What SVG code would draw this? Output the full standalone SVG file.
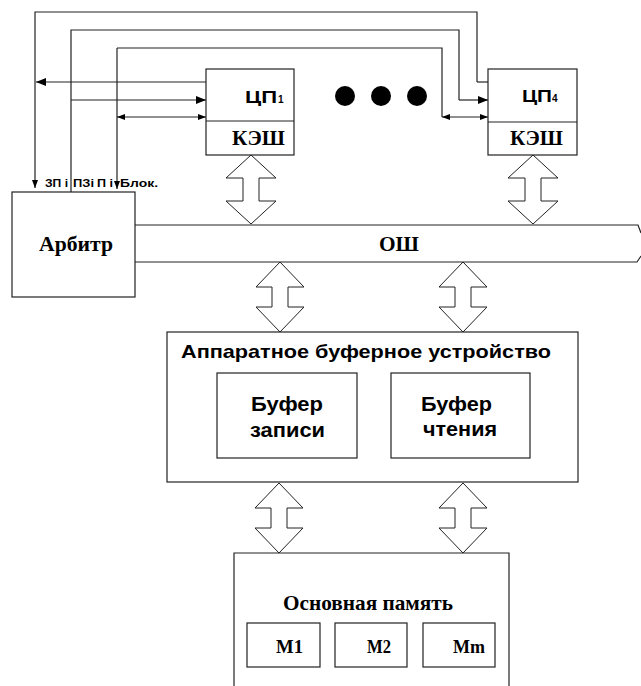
<svg xmlns="http://www.w3.org/2000/svg" width="641" height="686" viewBox="0 0 641 686">
<style>
.box{fill:#fff;stroke:#222;stroke-width:1.2}
.ln{fill:none;stroke:#222;stroke-width:1.2}
.blk{fill:#fff;stroke:#222;stroke-width:1}
.sans{font-family:"Liberation Sans",Arial,sans-serif;font-weight:bold;fill:#000}
.serif{font-family:"Liberation Serif","Times New Roman",serif;font-weight:bold;fill:#000}
</style>
<defs>
<marker id="big" markerUnits="userSpaceOnUse" markerWidth="12" markerHeight="10" refX="10" refY="4" orient="auto-start-reverse"><path d="M0,0 L10,4 L0,8 Z" fill="#000"/></marker>
<marker id="small" markerUnits="userSpaceOnUse" markerWidth="9" markerHeight="8" refX="8" refY="3" orient="auto-start-reverse"><path d="M0,0 L8,3 L0,6 Z" fill="#000"/></marker>
</defs>
<rect width="641" height="686" fill="#fff"/>

<g id="connectors">
<path class="ln" d="M477,82 V12 H35 V188" marker-end="url(#small)"/>
<path class="ln" d="M206,82 H36" marker-end="url(#big)"/>
<path class="ln" d="M477,82 H488"/>
<path class="ln" d="M71,192 V30 H459 V100"/>
<path class="ln" d="M71,100 H206" marker-end="url(#big)"/>
<path class="ln" d="M459,100 H488" marker-end="url(#big)"/>
<path class="ln" d="M117,48 H442 V117"/>
<path class="ln" d="M117,48 V189" marker-end="url(#small)"/>
<path class="ln" d="M117,117 H206" marker-start="url(#small)" marker-end="url(#small)"/>
<path class="ln" d="M442,117 H488" marker-start="url(#small)" marker-end="url(#small)"/>
<path class="blk" d="M251,155 L276,178 L259,178 L259,201 L276,201 L251,224 L226,201 L243,201 L243,178 L226,178 Z"/>
<path class="blk" d="M533,155 L558,178 L541,178 L541,201 L558,201 L533,224 L508,201 L525,201 L525,178 L508,178 Z"/>
<path class="blk" d="M280,262 L304,287 L288,287 L288,307 L304,307 L280,332 L256,307 L272,307 L272,287 L256,287 Z"/>
<path class="blk" d="M463,262 L487,287 L471,287 L471,307 L487,307 L463,332 L439,307 L455,307 L455,287 L439,287 Z"/>
<path class="blk" d="M279,483 L303,508 L287,508 L287,528 L303,528 L279,553 L255,528 L271,528 L271,508 L255,508 Z"/>
<path class="blk" d="M463,483 L487,508 L471,508 L471,528 L487,528 L463,553 L439,528 L455,528 L455,508 L439,508 Z"/>
<text class="sans" font-size="11" x="45" y="187" textLength="23" lengthAdjust="spacingAndGlyphs">ЗП i</text>
<text class="sans" font-size="11" x="73" y="187" textLength="21" lengthAdjust="spacingAndGlyphs">ПЗi</text>
<text class="sans" font-size="11" x="97" y="187" textLength="16" lengthAdjust="spacingAndGlyphs">П i</text>
<text class="sans" font-size="11" x="120" y="187" textLength="38" lengthAdjust="spacingAndGlyphs">Блок.</text>
</g>

<g id="cpu1">
<rect class="box" x="206" y="69" width="88" height="86"/>
<line class="ln" x1="206" y1="121" x2="294" y2="121"/>
<text class="sans" font-size="16" x="245" y="103" textLength="32" lengthAdjust="spacingAndGlyphs">ЦП</text>
<text class="sans" font-size="10" x="278" y="103">1</text>
<text class="serif" font-size="22" x="232" y="145" textLength="53" lengthAdjust="spacingAndGlyphs">КЭШ</text>
</g>

<g id="dots">
<circle cx="345" cy="96" r="10" fill="#000"/>
<circle cx="381" cy="96" r="10" fill="#000"/>
<circle cx="417" cy="96" r="10" fill="#000"/>
</g>

<g id="cpu4">
<rect class="box" x="488" y="69" width="89" height="86"/>
<line class="ln" x1="488" y1="122" x2="577" y2="122"/>
<text class="sans" font-size="16" x="522" y="102" textLength="30" lengthAdjust="spacingAndGlyphs">ЦП</text>
<text class="sans" font-size="10" x="552" y="102">4</text>
<text class="serif" font-size="22" x="510" y="145" textLength="53" lengthAdjust="spacingAndGlyphs">КЭШ</text>
</g>

<g id="arbiter">
<rect class="box" x="12" y="192" width="123" height="105"/>
<text class="serif" font-size="22" x="39" y="251" textLength="74" lengthAdjust="spacingAndGlyphs">Арбитр</text>
</g>

<g id="bus">
<path class="ln" d="M135,225 H638 L641,233"/>
<path class="ln" d="M135,262 H637 L641,256"/>
<text class="serif" font-size="21" x="379" y="251" textLength="40" lengthAdjust="spacingAndGlyphs">ОШ</text>
</g>

<g id="buffer">
<rect class="box" x="167" y="332" width="411" height="150"/>
<text class="sans" font-size="19" x="181" y="358" textLength="370" lengthAdjust="spacingAndGlyphs">Аппаратное буферное устройство</text>
</g>

<g id="write-buffer">
<rect class="box" x="217" y="373" width="140" height="85"/>
<text class="sans" font-size="20.5" x="251" y="411" textLength="72" lengthAdjust="spacingAndGlyphs">Буфер</text>
<text class="sans" font-size="20.5" x="250" y="437" textLength="75" lengthAdjust="spacingAndGlyphs">записи</text>
</g>

<g id="read-buffer">
<rect class="box" x="391" y="373" width="139" height="85"/>
<text class="sans" font-size="20.5" x="421" y="411" textLength="71" lengthAdjust="spacingAndGlyphs">Буфер</text>
<text class="sans" font-size="20.5" x="423" y="436" textLength="74" lengthAdjust="spacingAndGlyphs">чтения</text>
</g>

<g id="memory">
<path class="ln" d="M234,690 V553 H509 V690"/>
<text class="serif" font-size="22" x="283" y="610" textLength="170" lengthAdjust="spacingAndGlyphs">Основная память</text>
</g>
<g id="m1">
<rect class="box" x="247" y="623" width="73" height="44"/>
<text class="serif" font-size="19" x="276" y="653" textLength="27" lengthAdjust="spacingAndGlyphs">M1</text>
</g>
<g id="m2">
<rect class="box" x="335" y="623" width="72" height="44"/>
<text class="serif" font-size="19" x="367" y="653" textLength="24" lengthAdjust="spacingAndGlyphs">M2</text>
</g>
<g id="mm">
<rect class="box" x="423" y="623" width="72" height="44"/>
<text class="serif" font-size="19" x="453" y="653" textLength="32" lengthAdjust="spacingAndGlyphs">Mm</text>
</g>
</svg>
